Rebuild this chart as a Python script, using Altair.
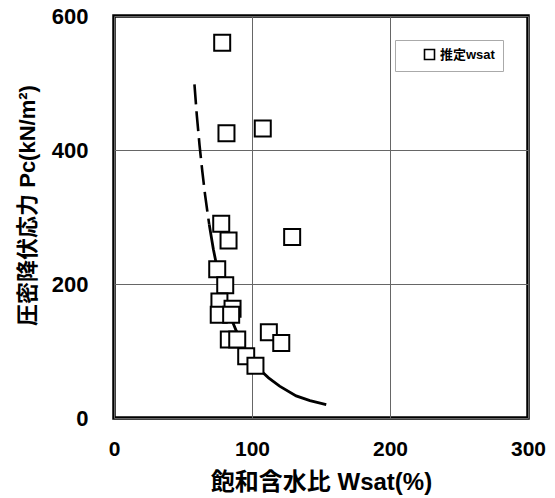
import altair as alt
import pandas as pd

# Measured samples: saturated water content (%) vs. consolidation yield stress (kN/m2)
wsat = [78.4, 81.5, 107.8, 77.7, 83.0, 129.1, 74.8, 80.6, 76.4, 75.9, 85.9, 84.9,
        83.2, 89.3, 112.2, 121.2, 95.8, 102.5]
pc = [560, 425, 432, 290, 265, 270, 222, 198, 174, 154, 163, 154,
      117, 117, 128, 112, 92, 78]

# Trend curve: extrapolated (dashed) and fitted (solid) parts
dash_w = [58.3, 60, 62, 64, 66, 68, 69]
dash_p = [498, 452, 407, 368, 333, 303, 289]
solid_w = [69, 72, 75, 80, 85, 90, 95, 100, 106.7, 112, 120, 132, 142, 153.8]
solid_p = [289, 252, 221, 180, 148, 123, 103, 87, 70, 60, 47.5, 33, 26, 20]

series_name = "推定wsat"

pts = pd.DataFrame({"w": wsat, "p": pc, "series": series_name})
dash_df = pd.DataFrame({"w": dash_w, "p": dash_p})
solid_df = pd.DataFrame({"w": solid_w, "p": solid_p})

FONT = "Liberation Sans, Noto Sans CJK JP, sans-serif"

x_scale = alt.Scale(domain=[0, 300], nice=False, zero=False)
y_scale = alt.Scale(domain=[0, 600], nice=False, zero=False)

x_axis = alt.Axis(
    title="飽和含水比 Wsat(%)", values=[0, 100, 200, 300], format="d",
    domain=False, ticks=False, grid=True, gridColor="#666", gridWidth=1,
    labelFont=FONT, labelFontSize=21, labelFontWeight="bold", labelColor="black",
    labelPadding=20, labelFlush=False,
    titleFont=FONT, titleFontSize=24, titleFontWeight="bold", titleColor="black",
    titleX=207, titleY=64, titleBaseline="middle", titleAlign="center",
)
y_axis = alt.Axis(
    title="圧密降伏応力 Pc(kN/m²)", values=[0, 200, 400, 600], format="d",
    domain=False, ticks=False, grid=True, gridColor="#666", gridWidth=1,
    labelFont=FONT, labelFontSize=22, labelFontWeight="bold", labelColor="black",
    labelPadding=26, labelFlush=False,
    titleFont=FONT, titleFontSize=22, titleFontWeight="bold", titleColor="black",
    titleAngle=270, titleX=-87, titleY=189, titleAlign="center", titleBaseline="middle",
)

dashed = alt.Chart(dash_df).mark_line(
    color="black", strokeWidth=2.6, strokeDash=[20, 7]
).encode(
    x=alt.X("w:Q", scale=x_scale, axis=x_axis),
    y=alt.Y("p:Q", scale=y_scale, axis=y_axis),
    order="w:Q",
)

solid = alt.Chart(solid_df).mark_line(
    color="black", strokeWidth=2.8
).encode(
    x=alt.X("w:Q", scale=x_scale),
    y=alt.Y("p:Q", scale=y_scale),
    order="w:Q",
)

points = alt.Chart(pts).mark_point(
    shape="square", size=256, fill="white", fillOpacity=1,
    strokeWidth=2, opacity=1
).encode(
    x=alt.X("w:Q", scale=x_scale),
    y=alt.Y("p:Q", scale=y_scale),
    stroke=alt.Stroke(
        "series:N",
        scale=alt.Scale(range=["black"]),
        legend=alt.Legend(
            title=None, orient="none", legendX=281, legendY=24,
            padding=8, symbolOffset=20, labelOffset=4,
            symbolType="square", symbolSize=100,
            symbolFillColor="white", symbolStrokeWidth=1.6,
            labelFont=FONT, labelFontSize=13, labelFontWeight="bold",
            labelColor="black", strokeColor="#aaa", fillColor="white",
        ),
    ),
)

chart = (
    alt.layer(dashed, solid, points)
    .properties(
        width=414, height=402,
        autosize=alt.AutoSizeParams(type="none"),
        padding={"left": 114, "top": 16, "right": 27, "bottom": 80},
        background="white",
    )
    .configure_view(stroke="black", strokeWidth=3.5)
)

chart.save("out.html", embed_options={"renderer": "svg", "actions": False})
